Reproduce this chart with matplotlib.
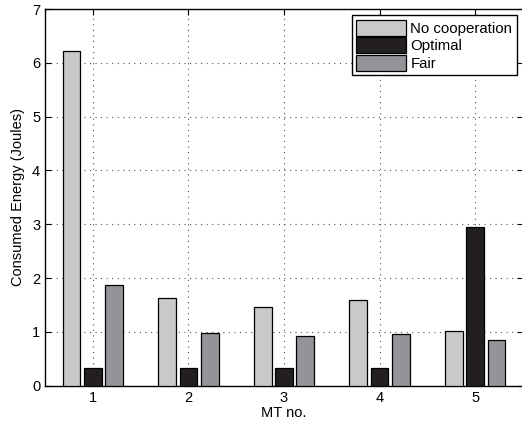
import numpy as np
import matplotlib
matplotlib.use("Agg")
import matplotlib.pyplot as plt

plt.rcParams['font.family'] = ['Liberation Sans', 'DejaVu Sans']

# data
mt = [1, 2, 3, 4, 5]
no_coop = [6.22, 1.63, 1.46, 1.60, 1.02]
optimal = [0.32, 0.32, 0.32, 0.32, 2.95]
fair = [1.88, 0.97, 0.93, 0.96, 0.84]

series = [("No cooperation", no_coop, "#c8c9cb"),
          ("Optimal", optimal, "#231f20"),
          ("Fair", fair, "#929497")]

fig = plt.figure(figsize=(5.22, 4.23), dpi=100)
ax = fig.add_axes([0.0862, 0.0882, 0.9157, 0.8905])

x = np.array(mt)
off = 0.223
w = 0.185
for i, (name, vals, col) in enumerate(series):
    ax.bar(x + (i - 1) * off, vals, w, color=col, edgecolor="black",
           linewidth=0.9, label=name, zorder=3)

ax.set_xlim(0.5, 5.5)
ax.set_ylim(0, 7)
ax.set_xticks(mt)
ax.set_yticks(range(0, 8))
ax.grid(True, linestyle=(0, (1, 4)), color="#555555", linewidth=0.8, zorder=0)
ax.tick_params(direction="in", top=True, right=True, labelsize=10.5, length=4)
for s in ax.spines.values():
    s.set_linewidth(1.0)
ax.set_xlabel("MT no.", fontsize=10.5, labelpad=1)
ax.set_ylabel("Consumed Energy (Joules)", fontsize=10.5, labelpad=5)

leg = ax.legend(loc="upper right", bbox_to_anchor=(0.987, 0.983),
                fontsize=10.8, fancybox=False, edgecolor="black",
                framealpha=1, handlelength=3.3, handleheight=1.25,
                handletextpad=0.3, labelspacing=0.1, borderpad=0.3,
                borderaxespad=0)
leg.get_frame().set_linewidth(1.0)

fig.savefig("out.png", dpi=100)
